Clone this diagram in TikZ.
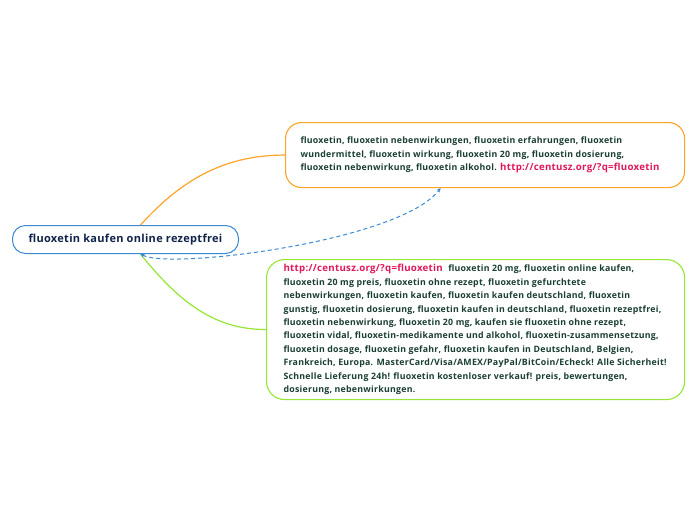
\documentclass[tikz,border=0pt]{standalone}
\usepackage{fontspec}
\setmainfont{Open Sans}[LetterSpace=2.8]
\usetikzlibrary{calc,arrows.meta}
\definecolor{txt}{HTML}{1B3F33}
\definecolor{navy}{HTML}{10234A}
\definecolor{lnk}{HTML}{E0185A}
\definecolor{orng}{HTML}{FFA329}
\definecolor{grn}{HTML}{96E635}
\definecolor{blu}{HTML}{3A8AD4}
\newcommand{\lnk}[1]{{\fontsize{9.7}{13.4}\selectfont\textcolor{lnk}{#1}}}
\tikzset{
  box/.style={draw, rounded corners=16pt, line width=1.1pt, fill=white, align=left,
    font=\fontsize{8.8}{13.4}\selectfont\bfseries, text=txt, inner sep=0pt, anchor=north west},
  center/.style={draw=blu, rounded corners=13pt, line width=1pt, fill=white,
    font=\fontsize{11}{12}\selectfont\bfseries, text=navy, minimum width=226pt, minimum height=28pt, inner sep=0pt, anchor=north west},
  conn/.style={line width=1.2pt},
  rel/.style={blu, line width=1pt, dashed, dash pattern=on 4pt off 3pt, {Stealth[length=4pt,width=4pt]}-{Stealth[length=4pt,width=4pt]}}
}
\begin{document}
\begin{tikzpicture}[x=1pt,y=-1pt]
\fill[white] (0,0) rectangle (696,520);
\useasboundingbox (0,0) rectangle (696,520);
\node[center] (c) at (12,225) {fluoxetin kaufen online rezeptfrei};
\node[box, draw=orng, minimum width=399pt, minimum height=65pt] (top) at (285,122) {\hspace*{15pt}\parbox{384pt}{\raggedright
fluoxetin, fluoxetin nebenwirkungen, fluoxetin erfahrungen, fluoxetin\\
wundermittel, fluoxetin wirkung, fluoxetin 20 mg, fluoxetin dosierung,\\
fluoxetin nebenwirkung, fluoxetin alkohol. \lnk{http://centusz.org/?q=fluoxetin}}};
\node[box, draw=grn, rounded corners=18pt, minimum width=418pt, minimum height=140pt] (bot) at (266,259) {\hspace*{17pt}\parbox{401pt}{\raggedright
\lnk{http://centusz.org/?q=fluoxetin}\hspace{3pt} fluoxetin 20 mg, fluoxetin online kaufen,\\
fluoxetin 20 mg preis, fluoxetin ohne rezept, fluoxetin gefurchtete\\
nebenwirkungen, fluoxetin kaufen, fluoxetin kaufen deutschland, fluoxetin\\
gunstig, fluoxetin dosierung, fluoxetin kaufen in deutschland, fluoxetin rezeptfrei,\\
fluoxetin nebenwirkung, fluoxetin 20 mg, kaufen sie fluoxetin ohne rezept,\\
fluoxetin vidal, fluoxetin-medikamente und alkohol, fluoxetin-zusammensetzung,\\
fluoxetin dosage, fluoxetin gefahr, fluoxetin kaufen in Deutschland, Belgien,\\
Frankreich, Europa. MasterCard/Visa/AMEX/PayPal/BitCoin/Echeck! Alle Sicherheit!\\
Schnelle Lieferung 24h! fluoxetin kostenloser verkauf! preis, bewertungen,\\
dosierung, nebenwirkungen.}};
\draw[conn, orng] ([xshift=15pt]c.north) .. controls +(45,-50) and +(-55,0) .. (top.west);
\draw[conn, grn] ([xshift=15pt]c.south) .. controls +(40,50) and +(-50,0) .. (bot.west);
\draw[rel] ([xshift=15pt]c.south) .. controls +(30,16) and +(-40,53) .. ([xshift=-44.5pt]top.south);
\end{tikzpicture}
\end{document}
